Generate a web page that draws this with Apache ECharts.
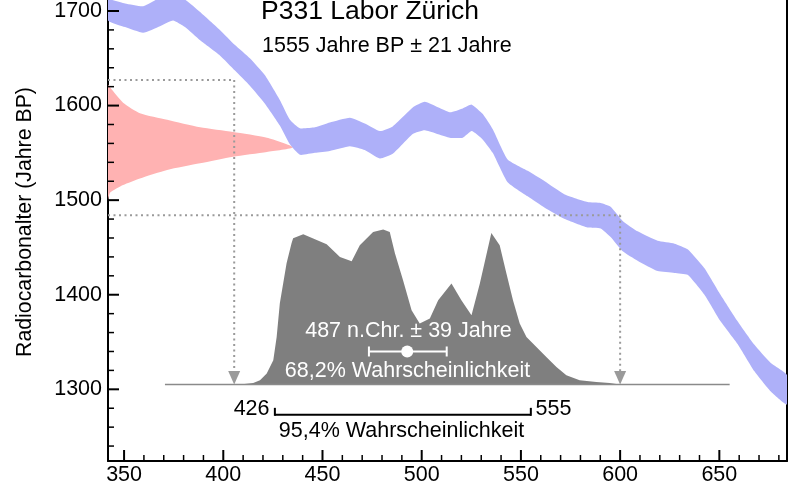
<!DOCTYPE html>
<html><head><meta charset="utf-8">
<script src="https://cdn.jsdelivr.net/npm/echarts@6/dist/echarts.min.js"></script>
<style>html,body{margin:0;padding:0;background:#fff}#c{width:800px;height:500px}</style>
</head><body><div id="c"></div>
<script>
// ---- axis ticks ----
const xTicks = [350, 400, 450, 500, 550, 600, 650];
const xMinorTicks = [360,370,380,390,410,420,430,440,460,470,480,490,510,520,530,540,560,570,580,590,610,620,630,640,660,670,680];
const yTicks = [1300, 1400, 1500, 1600, 1700];
const yMinorTicks = [1240,1260,1280,1320,1340,1360,1380,1420,1440,1460,1480,1520,1540,1560,1580,1620,1640,1660,1680];

// ---- calibration curve band (years AD, BP upper / lower) ----
const calYears = [341.9,350.5,359.6,368.1,374.7,380.7,388.3,398.3,405.9,413.4,421,428.5,433.6,438.6,446.2,453.7,463.8,471.3,478.9,485.4,495.5,501.6,514.1,520.7,525.2,530.8,535.8,543.3,553.4,562,572.1,583.6,590.2,595.2,601.3,608.8,618.9,627.4,634,642.5,650.6,659.2,667.7,675.8,684.1];
const calUpper = [1712,1708,1705,1714,1716,1712,1699,1680,1664,1650,1632,1606,1585,1576,1577,1582,1587,1581,1573,1578,1598,1604,1593,1597,1601,1591,1575,1543,1531,1520,1506,1498,1497,1493,1478,1467,1457,1454,1448,1428,1400,1372,1347,1328,1315];
const calLower = [1690,1683,1677,1684,1690,1683,1669,1653,1637,1621,1602,1579,1559,1548,1550,1552,1557,1553,1544,1549,1570,1574,1566,1566,1573,1564,1550,1519,1504,1492,1480,1471,1470,1461,1446,1436,1425,1423,1421,1400,1372,1348,1319,1298,1284];

// ---- measured radiocarbon age distribution (outline: year extent, BP) ----
const redYears = [341.9,343,349.5,358,371.7,388.3,404.9,422,435.1,422,404.9,388.3,371.7,358,349.5,343,341.9];
const redBP    = [1622,1619,1603,1592,1585,1577,1572,1566,1556,1551,1546,1539,1532,1523,1516,1508,1500];

// ---- calibrated probability distribution (year AD, height in BP units above base) ----
const probYears   = [408.4,415.1,418.5,421.9,425.2,426.9,428.5,431.9,434.4,435.2,440.3,452.1,458.8,464.7,468.8,475.5,480.6,483.9,486.5,490.6,494.9,499.0,504.1,508.3,515.0,520.0,525.1,529.3,535.1,539.3,542.7,546.0,549.4,552.8,557.8,562.8,567.9,572.9,579.6,588.0,594.7,599.7];
const probHeights = [0,1.7,4.5,11.6,25.7,50.3,86,128.3,149.4,154.7,158.9,148.3,134.9,130.4,147.3,161.3,163.9,161.3,138.8,110.3,78.6,64.5,69.8,89.1,106.8,89.1,73.3,106.8,160.3,147.3,117.4,89.1,64.5,50.3,39.8,29.2,18.6,9.8,4.5,2.7,1.7,0];
const probBase = 1305;
const probBaseRange = [370.6, 655.2];

// ---- guides and ranges ----
const guideBP = [1627, 1484];
const guideYears = [405.5, 600];
const range68 = [473.4, 512.6];
const range68Center = 492.7;
const range68BP = 1340;
const range95 = [426, 555];
const range95BP = 1273;

const X_MIN = 341.9, X_MAX = 684.1, Y_MIN = 1224.2, Y_MAX = 1711.6;
const FONT = '"Liberation Sans", Arial, Helvetica, sans-serif';

const chart = echarts.init(document.getElementById('c'), null, {renderer: 'canvas'});

function single(renderItem, z, clip) {
  return {type: 'custom', data: [[400, 1400]], renderItem: renderItem, clip: clip !== false, silent: true, z: z || 2,
          xAxisIndex: 0, yAxisIndex: 0};
}

const redSeries = single(function (p, api) {
  const pts = redYears.map((x, i) => api.coord([x, redBP[i]]));
  return {type: 'polygon', shape: {points: pts, smooth: 0.2}, style: {fill: '#ffb2b2'}};
}, 2);

const bandSeries = single(function (p, api) {
  const pts = [];
  for (let i = 0; i < calYears.length; i++) pts.push(api.coord([calYears[i], calUpper[i]]));
  for (let i = calYears.length - 1; i >= 0; i--) pts.push(api.coord([calYears[i], calLower[i]]));
  return {type: 'polygon', shape: {points: pts, smooth: 0.15}, style: {fill: '#aeb0f9'}};
}, 3);

const probSeries = single(function (p, api) {
  const pts = [];
  for (let i = 0; i < probYears.length; i++) pts.push(api.coord([probYears[i], probBase + probHeights[i]]));
  pts.push(api.coord([probYears[probYears.length - 1], probBase]));
  pts.push(api.coord([probYears[0], probBase]));
  const b0 = api.coord([probBaseRange[0], probBase]);
  const b1 = api.coord([probBaseRange[1], probBase]);
  return {type: 'group', children: [
    {type: 'polygon', shape: {points: pts}, style: {fill: '#7f7f7f'}},
    {type: 'line', shape: {x1: b0[0], y1: b0[1], x2: b1[0], y2: b1[1]}, style: {stroke: '#8a8a8a', lineWidth: 1.5}}
  ]};
}, 4);

const guideSeries = single(function (p, api) {
  const children = [];
  const dash = {stroke: '#9a9a9a', lineWidth: 2, lineDash: [2, 3.5]};
  for (let k = 0; k < 2; k++) {
    const a = api.coord([X_MIN, guideBP[k]]);
    const c = api.coord([guideYears[k], guideBP[k]]);
    const tip = api.coord([guideYears[k], probBase]);
    children.push({type: 'line', shape: {x1: a[0], y1: a[1], x2: c[0], y2: c[1]}, style: dash});
    children.push({type: 'line', shape: {x1: c[0], y1: c[1], x2: tip[0], y2: tip[1] - 12}, style: dash});
    children.push({type: 'polygon', shape: {points: [[tip[0] - 6, tip[1] - 13.5], [tip[0] + 6, tip[1] - 13.5], [tip[0], tip[1]]]},
                   style: {fill: '#9a9a9a'}});
  }
  return {type: 'group', children: children};
}, 5);

const rangeSeries = single(function (p, api) {
  const l = api.coord([range68[0], range68BP]);
  const r = api.coord([range68[1], range68BP]);
  const m = api.coord([range68Center, range68BP]);
  const bl = api.coord([range95[0], range95BP]);
  const br = api.coord([range95[1], range95BP]);
  const w = {stroke: '#ffffff', lineWidth: 2};
  const k = {stroke: '#000000', lineWidth: 2};
  return {type: 'group', children: [
    {type: 'line', shape: {x1: l[0], y1: l[1], x2: r[0], y2: r[1]}, style: w},
    {type: 'line', shape: {x1: l[0], y1: l[1] - 5, x2: l[0], y2: l[1] + 5}, style: w},
    {type: 'line', shape: {x1: r[0], y1: r[1] - 5, x2: r[0], y2: r[1] + 5}, style: w},
    {type: 'circle', shape: {cx: m[0], cy: m[1], r: 6}, style: {fill: '#ffffff'}},
    {type: 'line', shape: {x1: bl[0], y1: bl[1], x2: br[0], y2: br[1]}, style: k},
    {type: 'line', shape: {x1: bl[0], y1: bl[1] - 7, x2: bl[0], y2: bl[1] + 1}, style: k},
    {type: 'line', shape: {x1: br[0], y1: br[1] - 7, x2: br[0], y2: br[1] + 1}, style: k}
  ]};
}, 6);

// axis ticks drawn inward through the axis scales
const tickSeries = single(function (p, api) {
  const ch = [];
  const add = (a, b, w) => ch.push({type: 'line', shape: {x1: a[0], y1: a[1], x2: b[0], y2: b[1]}, style: {stroke: '#000', lineWidth: w}});
  xTicks.forEach(v => { const c = api.coord([v, Y_MIN]); add(c, [c[0], c[1] - 11], 2); });
  xMinorTicks.forEach(v => { const c = api.coord([v, Y_MIN]); add(c, [c[0], c[1] - 6], 1.5); });
  yTicks.forEach(v => { const c = api.coord([X_MIN, v]); add(c, [c[0] + 11, c[1]], 2); });
  yMinorTicks.forEach(v => { const c = api.coord([X_MIN, v]); add(c, [c[0] + 6, c[1]], 1.5); });
  return {type: 'group', children: ch};
}, 10, false);

function txt(text, x, y, size, align, color, rot) {
  return {type: 'text', x: x, y: y, z: 100, rotation: rot || 0, silent: true,
    style: {text: text, fill: color || '#000', font: size + 'px ' + FONT, fontSize: size, fontFamily: FONT,
            textAlign: align, align: align, textVerticalAlign: 'middle', verticalAlign: 'middle'}};
}

const fmt = v => String(Math.round(v));

const option = {
  animation: false,
  backgroundColor: '#ffffff',
  grid: {left: 108, right: 13, top: 0, bottom: 39, containLabel: false},
  xAxis: [
    {type: 'value', min: X_MIN, max: X_MAX, position: 'bottom',
     axisLine: {show: true, onZero: false, lineStyle: {color: '#000', width: 2}},
     axisTick: {show: false},
     axisLabel: {show: true, customValues: xTicks, formatter: fmt, color: '#000', fontSize: 21.5, fontFamily: FONT, margin: 3},
     splitLine: {show: false}}
  ],
  yAxis: [
    {type: 'value', min: Y_MIN, max: Y_MAX, position: 'left',
     axisLine: {show: true, onZero: false, lineStyle: {color: '#000', width: 2}},
     axisTick: {show: false},
     axisLabel: {show: true, customValues: yTicks, formatter: fmt, color: '#000', fontSize: 21.5, fontFamily: FONT, margin: 6},
     splitLine: {show: false}},
    {type: 'value', min: Y_MIN, max: Y_MAX, position: 'right',
     axisLine: {show: true, onZero: false, lineStyle: {color: '#000', width: 2}},
     axisTick: {show: false}, axisLabel: {show: false}, splitLine: {show: false}}
  ],
  series: [redSeries, bandSeries, probSeries, guideSeries, rangeSeries, tickSeries],
  graphic: [
    txt('P331 Labor Zürich', 261, 12, 26.5, 'left'),
    txt('1555 Jahre BP ± 21 Jahre', 262, 46, 21.5, 'left'),
    txt('Radiocarbonalter (Jahre BP)', 25, 222, 21.3, 'center', '#000', Math.PI / 2),
    txt('487 n.Chr. ± 39 Jahre', 408.5, 331.5, 21.5, 'center', '#ffffff'),
    txt('68,2% Wahrscheinlichkeit', 407.5, 371, 21.5, 'center', '#ffffff'),
    txt('426', 269.5, 409, 21.5, 'right'),
    txt('555', 535.5, 409, 21.5, 'left'),
    txt('95,4% Wahrscheinlichkeit', 401.5, 431, 21.5, 'center')
  ]
};
chart.setOption(option);
</script>
</body></html>
